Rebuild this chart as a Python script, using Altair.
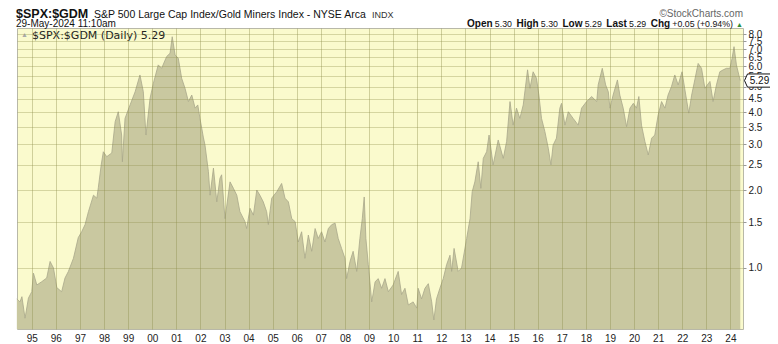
import altair as alt
import pandas as pd

# ---- data (decimal year, $SPX:$GDM ratio) ----
years = [
    1994.38, 1994.51, 1994.59, 1994.72, 1994.86, 1995.00, 1995.07, 1995.21, 1995.41, 1995.62,
    1995.76, 1995.90, 1996.04, 1996.24, 1996.38, 1996.52, 1996.73, 1996.93, 1997.07, 1997.21,
    1997.35, 1997.56, 1997.70, 1997.76, 1997.88, 1997.97, 1998.11, 1998.32, 1998.46, 1998.59,
    1998.73, 1998.76, 1998.87, 1999.08, 1999.29, 1999.49, 1999.63, 1999.74, 1999.91, 2000.05,
    2000.25, 2000.39, 2000.60, 2000.74, 2000.83, 2000.95, 2001.08, 2001.22, 2001.36, 2001.50,
    2001.64, 2001.78, 2001.89, 2001.98, 2002.12, 2002.19, 2002.33, 2002.40, 2002.54, 2002.68,
    2002.81, 2002.88, 2003.02, 2003.23, 2003.37, 2003.51, 2003.64, 2003.85, 2003.92, 2004.06,
    2004.20, 2004.34, 2004.47, 2004.61, 2004.75, 2004.82, 2004.96, 2005.17, 2005.37, 2005.51,
    2005.65, 2005.79, 2005.93, 2006.06, 2006.20, 2006.34, 2006.48, 2006.62, 2006.76, 2006.89,
    2007.03, 2007.17, 2007.31, 2007.45, 2007.59, 2007.72, 2007.86, 2008.00, 2008.07, 2008.21,
    2008.34, 2008.49, 2008.62, 2008.72, 2008.80, 2008.87, 2008.97, 2009.11, 2009.25, 2009.38,
    2009.52, 2009.66, 2009.80, 2010.00, 2010.21, 2010.35, 2010.49, 2010.63, 2010.83, 2010.98,
    2011.04, 2011.18, 2011.32, 2011.46, 2011.60, 2011.69, 2011.80, 2011.94, 2012.08, 2012.22,
    2012.36, 2012.43, 2012.53, 2012.70, 2012.84, 2013.05, 2013.19, 2013.28, 2013.39, 2013.53,
    2013.64, 2013.74, 2013.88, 2013.98, 2014.15, 2014.36, 2014.57, 2014.71, 2014.85, 2014.98,
    2015.12, 2015.26, 2015.40, 2015.58, 2015.68, 2015.81, 2015.95, 2016.05, 2016.16, 2016.30,
    2016.44, 2016.55, 2016.64, 2016.78, 2016.92, 2016.99, 2017.13, 2017.27, 2017.47, 2017.68,
    2017.82, 2018.03, 2018.24, 2018.45, 2018.51, 2018.68, 2018.82, 2018.93, 2019.00, 2019.13,
    2019.31, 2019.41, 2019.55, 2019.69, 2019.83, 2019.97, 2020.10, 2020.20, 2020.31, 2020.45,
    2020.59, 2020.73, 2020.86, 2021.00, 2021.14, 2021.28, 2021.41, 2021.55, 2021.69, 2021.83,
    2021.99, 2022.10, 2022.27, 2022.39, 2022.52, 2022.66, 2022.80, 2022.94, 2023.15, 2023.28,
    2023.42, 2023.56, 2023.70, 2023.84, 2023.98, 2024.07, 2024.15, 2024.25, 2024.35, 2024.41,
]
ratio = [
    0.76, 0.74, 0.775, 0.64, 0.765, 0.81, 0.955, 0.86, 0.885, 0.915,
    1.06, 1.0, 0.84, 0.81, 0.915, 0.97, 1.09, 1.31, 1.38, 1.47,
    1.65, 1.91, 1.86, 2.04, 2.50, 2.81, 2.69, 2.78, 3.67, 4.01,
    3.26, 2.57, 3.78, 4.26, 4.79, 5.56, 4.79, 3.26, 4.52, 5.17,
    6.08, 5.9, 6.55, 6.74, 7.81, 6.64, 6.45, 5.40, 4.94, 4.39,
    4.65, 4.14, 4.26, 3.78, 3.2, 2.98, 2.36, 1.91, 2.43, 1.80,
    2.22, 2.29, 1.55, 2.15, 2.03, 1.91, 1.65, 1.51, 1.42, 1.70,
    1.60, 2.00, 1.91, 1.80, 1.65, 1.47, 1.86, 1.97, 2.12, 1.86,
    1.80, 1.55, 1.51, 1.26, 1.38, 1.09, 1.34, 1.16, 1.42, 1.30,
    1.38, 1.26, 1.42, 1.47, 1.49, 1.30, 1.19, 1.09, 0.91, 1.06,
    1.16, 0.97, 1.30, 1.55, 1.88, 1.30, 1.03, 0.74, 0.885, 0.91,
    0.835, 0.91, 0.81, 0.86, 0.97, 0.79, 0.835, 0.72, 0.74, 0.70,
    0.835, 0.76, 0.835, 0.87, 0.74, 0.63, 0.76, 0.835, 0.91, 1.03,
    1.12, 0.97, 1.19, 0.97, 1.0, 1.30, 1.55, 1.97, 2.15, 2.57,
    2.03, 2.65, 2.81, 3.26, 2.50, 3.12, 2.65, 3.08, 4.39, 3.56,
    4.14, 3.78, 4.26, 5.82, 4.94, 5.72, 5.40, 4.65, 3.78, 3.36,
    2.90, 2.50, 2.98, 3.17, 4.14, 4.32, 3.56, 4.01, 3.78, 3.56,
    4.14, 4.39, 4.59, 4.39, 5.09, 5.9, 5.09, 4.79, 4.14, 4.65,
    5.32, 4.65, 4.14, 3.51, 4.14, 4.32, 4.14, 4.59, 3.56, 3.08,
    2.73, 3.17, 3.26, 3.90, 4.39, 4.14, 4.65, 5.01, 5.56, 5.09,
    5.72, 4.94, 3.96, 4.65, 5.32, 6.16, 5.9, 4.94, 5.25, 4.39,
    5.09, 5.72, 5.82, 5.9, 5.9, 6.45, 7.15, 6.08, 5.56, 5.29,
]
assert len(years) == len(ratio)

year_ticks = list(range(1995, 2025))
y_ticks = [1.0, 1.5, 2.0, 2.5, 3.0, 3.5, 4.0, 4.5, 5.0, 5.5, 6.0, 6.5, 7.0, 7.5, 8.0]
last_value = 5.29
y_domain = [0.5815, 8.44]
stats_labels = ["Open", "High", "Low", "Last", "Chg"]
stats_values = ["5.30", "5.30", "5.29", "5.29", "+0.05 (+0.94%)"]


def to_date(y):
    yi = int(y)
    return pd.Timestamp(yi, 1, 1) + pd.Timedelta(days=(y - yi) * 365.25)


df = pd.DataFrame({"date": [to_date(y) for y in years], "ratio": ratio})
last = pd.DataFrame({"ratio": [last_value], "label": [f"{last_value:.2f}"]})

W, H = 726, 301
BG = "#FAFACD"
FILL = "#C9C8A0"
GRID = "#8E8E4E"

xscale = alt.Scale(domain=[alt.DateTime(year=1994, month=5, date=22),
                           alt.DateTime(year=2024, month=7, date=10)])
yscale = alt.Scale(type="log", domain=y_domain, nice=False, zero=False)

xaxis = alt.Axis(values=[alt.DateTime(year=y, month=1, date=1) for y in year_ticks],
                 format="%y", grid=True, gridColor=GRID, gridOpacity=0.4, gridWidth=1,
                 ticks=False, domain=False, zindex=1,
                 labelFontSize=10, labelColor="#222", labelPadding=4,
                 labelFlush=False, labelFont="Liberation Sans", title=None)
# grid-only y axis drawn above the area
ygrid_axis = alt.Axis(orient="right", values=y_ticks, grid=True, gridColor=GRID,
                      gridOpacity=0.35, gridWidth=1, zindex=1, labels=False,
                      ticks=False, domain=False, title=None)
# label y axis drawn beneath the last-value tag
ylabel_axis = alt.Axis(orient="right", values=y_ticks, format=".1f", grid=False,
                       tickSize=3, tickColor="#999", domain=False, zindex=0,
                       labelFontSize=10, labelColor="#222", labelPadding=2,
                       labelOverlap=False, labelFlush=False,
                       labelFont="Liberation Sans", title=None)

X = alt.X("date:T", scale=xscale, axis=xaxis, title=None)

area = alt.Chart(df).mark_area(
    fill=FILL, fillOpacity=1,
    line=alt.OverlayMarkDef(color="#A8A78A", strokeWidth=0.8),
).encode(x=X, y=alt.Y("ratio:Q", scale=yscale, axis=ygrid_axis, title=None),
         y2=alt.datum(y_domain[0]))

Ylab = alt.Y("ratio:Q", scale=yscale, axis=ylabel_axis, title=None)
box_path = "M -1.25 0 L -1 -0.55 L 1 -0.55 L 1 0.55 L -1 0.55 Z"
box = alt.Chart(last).mark_point(
    shape=box_path, size=576, filled=True, fill="white", stroke="#111",
    strokeWidth=1, opacity=1,
).encode(x=alt.value(W + 16.5), y=Ylab)
box_text = alt.Chart(last).mark_text(
    fontSize=10, font="Liberation Sans", color="#111", align="center", baseline="middle",
).encode(x=alt.value(W + 16.5), y=Ylab, text="label:N")
tag = alt.layer(box, box_text)


def txt(s, x, y, size=10, weight="normal", color="#111", align="left",
        font="Liberation Sans"):
    return alt.Chart().mark_text(
        text=s, fontSize=size, fontWeight=weight, color=color, align=align,
        baseline="alphabetic", font=font,
    ).encode(x=alt.value(x), y=alt.value(y))


header = [
    txt("$SPX:$GDM", -1, -10, size=12.5, weight="bold"),
    txt("S&P 500 Large Cap Index/Gold Miners Index - NYSE Arca", 77, -10, size=10.5),
    txt("INDX", 355, -10, size=9, color="#333"),
    txt("29-May-2024 11:10am", -1, -1, size=10),
    txt("\u00a9StockCharts.com", 726, -11, size=10, color="#666", align="right"),
    txt("\u25b2", 4, 9, size=7, color="#AAA"),
    txt("$SPX:$GDM (Daily) 5.29", 15, 10.5, size=11, font="DejaVu Sans", color="#222"),
    txt("\u25b2", 726, -1, size=7, color="#2E8B3A", align="right"),
]

# approximate Arial advance widths (em) for laying out the stats line
_w = {"O": .778, "p": .611, "e": .556, "n": .611, "H": .722, "i": .278, "g": .611,
      "h": .611, "L": .611, "o": .611, "w": .778, "a": .556, "s": .556, "t": .333,
      "C": .722, ".": .278, " ": .278, "+": .584, "(": .333, ")": .333, "%": .889}


def width(s, size):
    return sum(_w.get(c, .556) for c in s) * size


BOLD, REG = 10, 8.8
x = 716.0  # right end of the stats line (plot coords)
pieces = []
for lab, val in reversed(list(zip(stats_labels, stats_values))):
    x -= width(val, REG)
    pieces.append((val, False, x))
    x -= 2.2 + width(lab, BOLD)
    pieces.append((lab, True, x))
    x -= 4.5
for s, bold, px in pieces:
    header.append(txt(s, px, -1, size=BOLD if bold else REG,
                      weight="bold" if bold else "normal"))

chart = alt.layer(area, tag, *header).resolve_axis(y="independent").properties(
    width=W, height=H,
    padding={"left": 9, "top": 20, "right": 27, "bottom": 15},
    autosize=alt.AutoSizeParams(type="none"),
    background="white",
).configure_view(fill=BG, stroke="#B8B8A8", strokeWidth=1)

chart.save("out.html", embed_options={"renderer": "svg", "actions": False})
